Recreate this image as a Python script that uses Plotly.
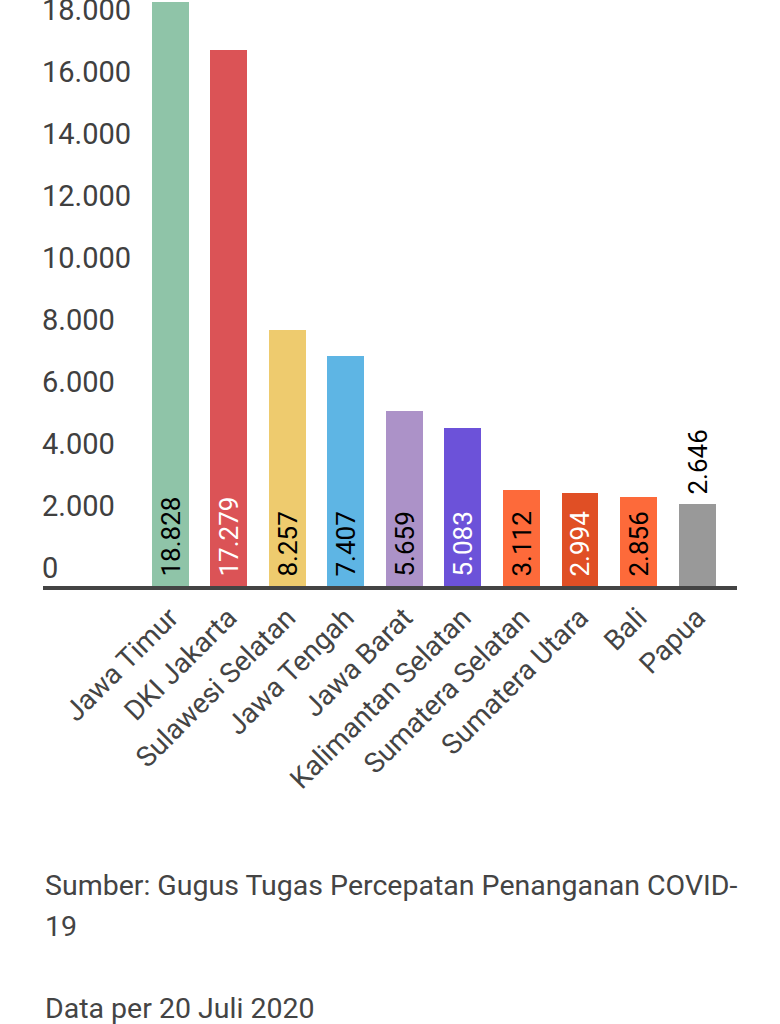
import plotly.graph_objects as go

categories = ["Jawa Timur", "DKI Jakarta", "Sulawesi Selatan", "Jawa Tengah", "Jawa Barat",
              "Kalimantan Selatan", "Sumatera Selatan", "Sumatera Utara", "Bali", "Papua"]
values = [18828, 17279, 8257, 7407, 5659, 5083, 3112, 2994, 2856, 2646]
value_labels = ["18.828", "17.279", "8.257", "7.407", "5.659", "5.083", "3.112", "2.994", "2.856", "2.646"]
colors = ["#8fc4a8", "#db5356", "#eecb6e", "#5eb5e4", "#ac92c8", "#6c52d9",
          "#fd6a3a", "#e04f25", "#fd6a3a", "#999999"]
text_colors = ["#000000", "#ffffff", "#000000", "#000000", "#000000", "#ffffff",
               "#000000", "#ffffff", "#000000", "#000000"]
text_positions = ["inside"] * 9 + ["outside"]
y_tickvals = [0, 2000, 4000, 6000, 8000, 10000, 12000, 14000, 16000, 18000]
y_ticktext = ["0", "2.000", "4.000", "6.000", "8.000", "10.000", "12.000", "14.000", "16.000", "18.000"]

W, H = 780, 1024
ML, MR, MT, MB = 43, 43, 0, 1024 - 586
PH = H - MT - MB

FONT = "Roboto"

bar_text = ["\u00a0" + t for t in value_labels]

fig = go.Figure(go.Bar(
    x=list(range(len(categories))),
    y=values,
    marker=dict(color=colors, line=dict(width=0)),
    width=0.63,
    text=bar_text,
    textposition=text_positions,
    insidetextanchor="start",
    textangle=-90,
    constraintext="none",
    textfont=dict(family=FONT, size=26, color=text_colors),
    outsidetextfont=dict(family=FONT, size=26, color="#000000"),
    cliponaxis=False,
    hoverinfo="skip",
))


def py(pix):
    return (MT + PH - pix) / PH


CAP = dict(family=FONT, size=28.5, color="#444444")
annotations = []
for txt, ypix in [("Sumber: Gugus Tugas Percepatan Penanganan COVID-", 885),
                  ("19", 927),
                  ("Data per 20 Juli 2020", 1008)]:
    annotations.append(dict(text=txt, xref="paper", yref="paper", x=0, y=py(ypix),
                            xanchor="left", yanchor="middle", align="left",
                            showarrow=False, font=CAP))

fig.update_layout(
    width=W, height=H,
    margin=dict(l=ML, r=MR, t=MT, b=MB, pad=0, autoexpand=False),
    paper_bgcolor="white", plot_bgcolor="white",
    showlegend=False,
    bargap=0,
    annotations=annotations,
    xaxis=dict(
        range=[-2.17, 9.68],
        tickvals=list(range(len(categories))),
        ticktext=categories,
        tickangle=-45,
        tickfont=dict(family=FONT, size=28, color="#444444"),
        showgrid=False, zeroline=False,
        showline=True, linecolor="#444444", linewidth=4,
        ticks="",
        automargin=False,
        fixedrange=True,
    ),
    yaxis=dict(
        range=[0, 18900],
        tickvals=y_tickvals,
        ticktext=y_ticktext,
        ticklabelposition="inside",
        ticklabelshift=-18,
        ticklabelstandoff=-4,
        ticklabeloverflow="allow",
        tickfont=dict(family=FONT, size=29, color="#404040"),
        showgrid=False, zeroline=False, showline=False,
        ticks="",
        automargin=False,
        fixedrange=True,
    ),
)

fig.write_html("out.html")
